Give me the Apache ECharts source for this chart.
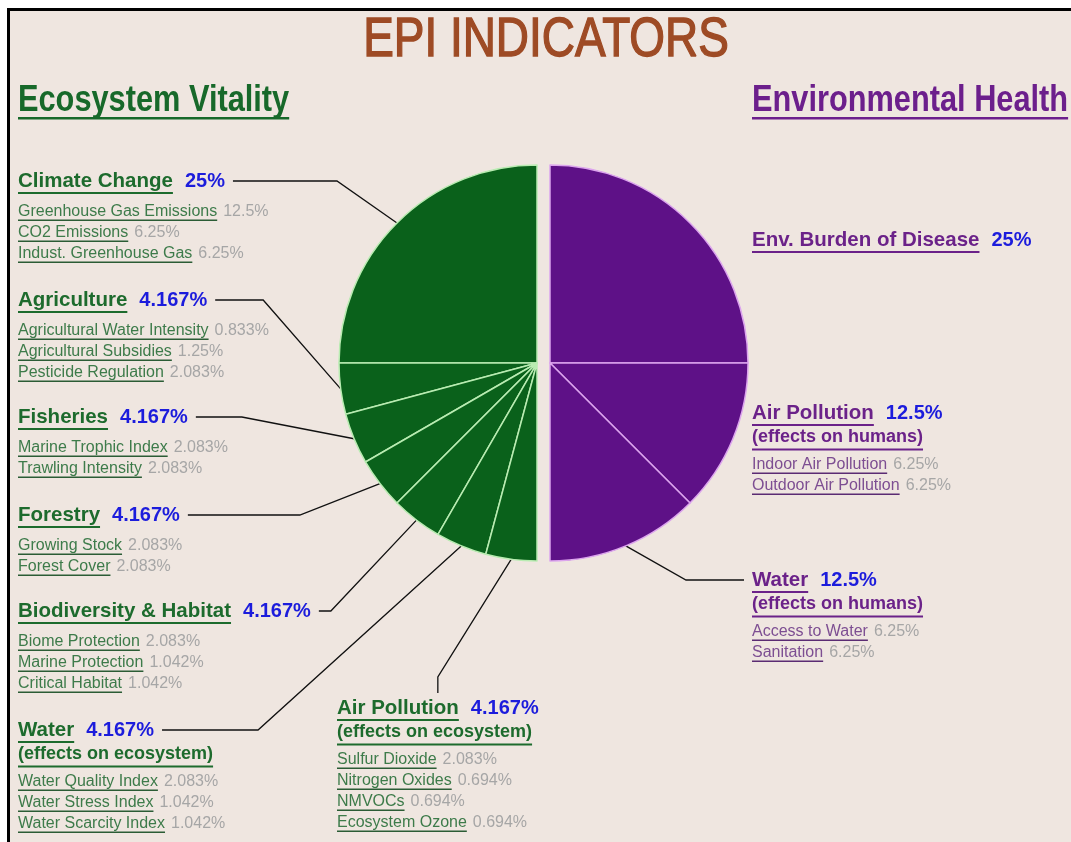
<!DOCTYPE html>
<html>
<head>
<meta charset="utf-8">
<title>EPI Indicators</title>
<script src="https://cdn.jsdelivr.net/npm/echarts@6/dist/echarts.min.js"></script>
<style>
html, body { margin: 0; padding: 0; background: #fff; }
#chart { width: 1071px; height: 842px; }
</style>
</head>
<body>
<div id="chart"></div>
<script>
// ---- data ----
const ecoNames = ['Climate Change', 'Agriculture', 'Fisheries', 'Forestry', 'Biodiversity & Habitat', 'Water', 'Air Pollution']
const ecoWeights = [25, 4.167, 4.167, 4.167, 4.167, 4.167, 4.167]
const ecoNotes = ['', '', '', '', '', '(effects on ecosystem)', '(effects on ecosystem)']

const healthNames = ['Env. Burden of Disease', 'Air Pollution', 'Water']
const healthWeights = [25, 12.5, 12.5]
const healthNotes = ['', '(effects on humans)', '(effects on humans)']

const climateSub = [['Greenhouse Gas Emissions', 12.5], ['CO2 Emissions', 6.25], ['Indust. Greenhouse Gas', 6.25]]
const agriSub = [['Agricultural Water Intensity', 0.833], ['Agricultural Subsidies', 1.25], ['Pesticide Regulation', 2.083]]
const fishSub = [['Marine Trophic Index', 2.083], ['Trawling Intensity', 2.083]]
const forestSub = [['Growing Stock', 2.083], ['Forest Cover', 2.083]]
const bioSub = [['Biome Protection', 2.083], ['Marine Protection', 1.042], ['Critical Habitat', 1.042]]
const ecoWaterSub = [['Water Quality Index', 2.083], ['Water Stress Index', 1.042], ['Water Scarcity Index', 1.042]]
const ecoAirSub = [['Sulfur Dioxide', 2.083], ['Nitrogen Oxides', 0.694], ['NMVOCs', 0.694], ['Ecosystem Ozone', 0.694]]
const burdenSub = []
const humanAirSub = [['Indoor Air Pollution', 6.25], ['Outdoor Air Pollution', 6.25]]
const humanWaterSub = [['Access to Water', 6.25], ['Sanitation', 6.25]]

const ecoSubs = [climateSub, agriSub, fishSub, forestSub, bioSub, ecoWaterSub, ecoAirSub]
const healthSubs = [burdenSub, humanAirSub, humanWaterSub]

// ---- layout (label anchors: text left, title line middle) ----
const ecoLabelPos = [[18, 181], [18, 300], [18, 417], [18, 515], [18, 611], [18, 730], [337, 708]]
const ecoLead = [104, 48, 46, 112, 12, 96, 16]
const healthLabelPos = [[752, 240], [752, 413], [752, 580]]
const healthLead = [0, 0, 58]
const GAP = 8 // 标签与引导线之间的空隙

// ---- styles ----
const SANS = '"Liberation Sans", Arial, sans-serif'
const BG = '#efe6e0'
const GREEN = '#0a611b'
const PURPLE = '#5e1187'
const BLUE = '#1c1cdc'
const GRAY = '#a6a6a6'
const ecoText = { title: '#1d6b2d', name: '#3d7b4a', line: '#2b5c35' }
const healthText = { title: '#6b2289', name: '#7d4e92', line: '#5b2b73' }

const ctx = document.createElement('canvas').getContext('2d')
function textWidth (text, size, weight, family) {
    ctx.font = weight + ' ' + size + 'px ' + family
    return ctx.measureText(text).width
}

// 饼图标签：上下各留 6px，使引导线对准标题行中线
function pieRich (names, color) {
    let rich = {
        s: { width: GAP, fontSize: 1, lineHeight: 22 },
        g: { width: GAP, height: 2, fontSize: 1, lineHeight: 6 },
        t: { color: color, fontSize: 20.5, fontWeight: 'bold', fontFamily: SANS, lineHeight: 22 },
        p: { color: BLUE, fontSize: 20, fontWeight: 'bold', fontFamily: SANS, lineHeight: 22, padding: [0, 0, 0, 12] }
    }
    names.forEach((n, i) => {
        rich['u' + i] = {
            width: textWidth(n, 20.5, 'bold', SANS), height: 2, lineHeight: 6, fontSize: 1,
            backgroundColor: color, verticalAlign: 'top'
        }
    })
    return rich
}

// 子指标文字块
function subBlock (x, titleY, note, subs, colors) {
    let rich = {}
    let lines = []
    let top = titleY + 22.5
    if (note) {
        top = titleY + 13.5
        rich.e = { fill: colors.title, fontSize: 18, fontWeight: 'bold', fontFamily: SANS, lineHeight: 22 }
        rich.eu = {
            width: textWidth(note, 18, 'bold', SANS), height: 2, lineHeight: 8, fontSize: 1,
            backgroundColor: colors.title, verticalAlign: 'top'
        }
        lines.push('{e|' + note + '}', '{eu| }')
    }
    rich.n = { fill: colors.name, fontSize: 16, fontFamily: SANS, lineHeight: 16 }
    rich.v = { fill: GRAY, fontSize: 16, fontFamily: SANS, lineHeight: 16, padding: [0, 0, 0, 6] }
    subs.forEach((s, i) => {
        rich['u' + i] = {
            width: textWidth(s[0], 16, 'normal', SANS), height: 1.5, lineHeight: 5, fontSize: 1,
            backgroundColor: colors.line, verticalAlign: 'top'
        }
        lines.push('{n|' + s[0] + '}{v|' + s[1] + '%}', '{u' + i + '| }')
    })
    if (!lines.length) return null
    return {
        type: 'text', x: x, y: top, silent: true,
        style: { text: lines.join('\n'), rich: rich, align: 'left', verticalAlign: 'top' }
    }
}

// 窄体标题（用横向压缩模拟 condensed 字体）
const NARROW_SCALE = 0.82
function header (x, text, color) {
    return {
        type: 'text', x: x, y: 85, scaleX: NARROW_SCALE, silent: true,
        style: {
            text: '{h|' + text + '}\n{u| }',
            align: 'left', verticalAlign: 'top',
            rich: {
                h: { fill: color, fontSize: 37.5, fontWeight: 'bold', fontFamily: SANS, lineHeight: 32 },
                u: { width: textWidth(text, 37.5, 'bold', SANS), height: 2.5, lineHeight: 6, fontSize: 1, backgroundColor: color, verticalAlign: 'top' }
            }
        }
    }
}

let graphics = [
    {
        type: 'rect', z: -10, silent: true,
        shape: { x: 8.5, y: 9.5, width: 1080, height: 850 },
        style: { fill: BG, stroke: '#000', lineWidth: 3 }
    },
    {
        type: 'text', x: 546, y: 41, scaleX: NARROW_SCALE, silent: true,
        style: {
            text: 'EPI INDICATORS', fill: '#9e4b25', stroke: '#9e4b25', lineWidth: 1.4,
            fontSize: 56, fontFamily: SANS, align: 'center', verticalAlign: 'middle'
        }
    },
    header(18, 'Ecosystem Vitality', '#17692a'),
    header(752, 'Environmental Health', '#6c1f8c')
]
ecoSubs.forEach((subs, i) => {
    let g = subBlock(ecoLabelPos[i][0], ecoLabelPos[i][1], ecoNotes[i], subs, ecoText)
    if (g) graphics.push(g)
})
healthSubs.forEach((subs, i) => {
    let g = subBlock(healthLabelPos[i][0], healthLabelPos[i][1], healthNotes[i], subs, healthText)
    if (g) graphics.push(g)
})

function labelFormatter (p) {
    return '{g| }\n{s| }{t|' + p.name + '}{p|' + p.value + '%}{s| }\n{g| }{u' + p.dataIndex + '| }'
}

const chart = echarts.init(document.getElementById('chart'))
const option = {
    backgroundColor: '#fff',
    animation: false,
    graphic: graphics,
    series: [
        {
            type: 'pie',
            name: 'Ecosystem Vitality',
            center: [537, 363],
            radius: 198,
            startAngle: 90,
            endAngle: 270,
            clockwise: false,
            avoidLabelOverlap: false,
            silent: true,
            itemStyle: { color: GREEN, borderColor: '#b9ecb2', borderWidth: 1.5 },
            label: {
                show: true, position: 'outside', formatter: labelFormatter,
                rich: pieRich(ecoNames, ecoText.title), overflow: 'none'
            },
            labelLine: { show: true, length: 6, length2: 20, lineStyle: { color: '#111', width: 1.3 } },
            labelLayout: function (params) {
                let p = ecoLabelPos[params.dataIndex]
                return { x: p[0] - GAP, y: p[1] - 17, align: 'left', verticalAlign: 'top' }
            },
            data: ecoNames.map((n, i) => ({ name: n, value: ecoWeights[i], labelLine: { length2: ecoLead[i] } }))
        },
        {
            type: 'pie',
            name: 'Environmental Health',
            center: [550, 363],
            radius: 198,
            startAngle: 90,
            endAngle: -90,
            clockwise: true,
            avoidLabelOverlap: false,
            silent: true,
            itemStyle: { color: PURPLE, borderColor: '#dca4ee', borderWidth: 1.5 },
            label: {
                show: true, position: 'outside', formatter: labelFormatter,
                rich: pieRich(healthNames, healthText.title), overflow: 'none'
            },
            labelLine: { show: true, length: 6, length2: 20, lineStyle: { color: '#111', width: 1.3 } },
            labelLayout: function (params) {
                let p = healthLabelPos[params.dataIndex]
                return { x: p[0] - GAP, y: p[1] - 17, align: 'left', verticalAlign: 'top' }
            },
            data: healthNames.map((n, i) => ({
                name: n,
                value: healthWeights[i],
                labelLine: healthLead[i] ? { length2: healthLead[i] } : { show: false }
            }))
        }
    ]
}
chart.setOption(option)
</script>
</body>
</html>
